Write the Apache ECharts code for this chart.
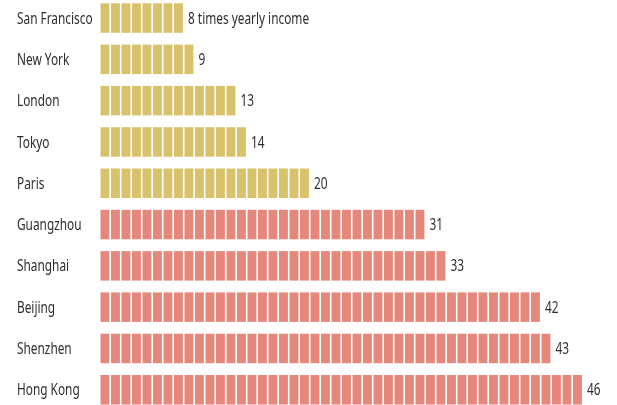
<!DOCTYPE html>
<html>
<head>
<meta charset="utf-8">
<script src="https://cdn.jsdelivr.net/npm/echarts@6/dist/echarts.min.js"></script>
<style>
  html, body { margin: 0; padding: 0; background: #ffffff; }
  #chart { width: 617px; height: 405px; }
</style>
</head>
<body>
<div id="chart"></div>
<script>
// Home price to yearly income ratio, one block per year of income
const cities = ['San Francisco', 'New York', 'London', 'Tokyo', 'Paris',
                'Guangzhou', 'Shanghai', 'Beijing', 'Shenzhen', 'Hong Kong'];
const ratios = [8, 9, 13, 14, 20, 31, 33, 42, 43, 46];
const groups = ['west', 'west', 'west', 'west', 'west',
                'china', 'china', 'china', 'china', 'china'];
const valueLabels = ['8 times yearly income', '9', '13', '14', '20',
                     '31', '33', '42', '43', '46'];

// narrow setting of a humanist sans
const FONT = '16px "Noto Sans", "Open Sans", sans-serif';
const NARROW = 0.74;
const TEXT_COLOR = '#2e2e2e';
const colors = { west: '#D9C26C', china: '#E5877A' };

const chart = echarts.init(document.getElementById('chart'), null, { renderer: 'canvas' });

function narrowText(x, y, text) {
  return {
    type: 'text',
    x: x, y: y,
    scaleX: NARROW, scaleY: 1,
    style: {
      x: 0, y: 0,
      text: text,
      fill: TEXT_COLOR,
      font: FONT,
      verticalAlign: 'middle',
      align: 'left'
    }
  };
}

chart.setOption({
  animation: false,
  backgroundColor: '#ffffff',
  grid: {
    left: 100, top: -2.6, width: 514.5, height: 413,
    containLabel: false,
    outerBoundsMode: 'none'
  },
  xAxis: {
    type: 'value', min: 0, max: 49,
    show: false
  },
  yAxis: {
    type: 'category',
    data: cities,
    inverse: true,
    axisLine: { show: false },
    axisTick: { show: false },
    splitLine: { show: false },
    axisLabel: { show: false }
  },
  series: [{
    type: 'custom',
    data: ratios.map((v, i) => [v, i]),
    encode: { x: 0, y: 1 },
    renderItem: function (params, api) {
      const n = api.value(0);
      const row = api.value(1);
      const h = 29.5;
      const children = [];
      for (let k = 0; k < n; k++) {
        const p0 = api.coord([k, row]);
        const p1 = api.coord([k + 1, row]);
        children.push({
          type: 'rect',
          shape: { x: p0[0] + 0.5, y: p0[1] - h / 2, width: p1[0] - p0[0] - 1.6, height: h },
          style: { fill: colors[groups[row]] }
        });
      }
      const end = api.coord([n, row]);
      // city name at the left margin
      children.push(narrowText(17, end[1] + 1, cities[row]));
      // value just past the last block
      children.push(narrowText(end[0] + 4, end[1] + 1, valueLabels[row]));
      return { type: 'group', children: children };
    }
  }]
});
</script>
</body>
</html>
